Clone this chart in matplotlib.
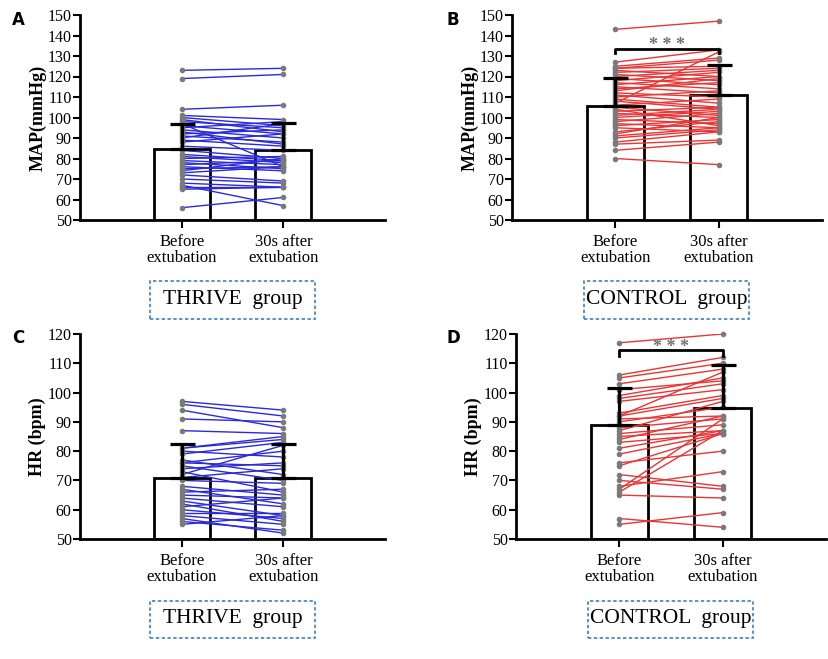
import matplotlib
matplotlib.use("Agg")
import matplotlib.pyplot as plt
from matplotlib.patches import Rectangle

plt.rcParams['font.family'] = ['Liberation Serif', 'DejaVu Serif']

categories = ["Before\nextubation", "30s after\nextubation"]

# panel A: THRIVE group, MAP (before, after)
thrive_map_before = [123, 119, 104, 101, 100, 99, 98, 97, 96, 95, 94, 93, 92, 91, 90, 89, 88, 86,
                     84, 82, 81, 80, 79, 78, 77, 76, 75, 74, 73, 72, 70, 68, 67, 66, 65, 56]
thrive_map_after = [124, 121, 106, 99, 96, 93, 95, 76, 92, 98, 90, 87, 94, 88, 97, 86, 92, 84,
                    80, 79, 78, 81, 77, 75, 79, 74, 76, 80, 76, 69, 68, 66, 57, 66, 66, 61]

# panel B: CONTROL group, MAP
control_map_before = [143, 127, 125, 124, 124, 123, 122, 121, 120, 119, 118, 117, 116, 115, 114, 113,
                      112, 111, 110, 109, 108, 107, 106, 105, 104, 103, 102, 101, 100, 99, 98, 97,
                      96, 95, 93, 92, 91, 90, 88, 87, 84, 80]
control_map_after = [147, 133, 129, 128, 125, 120, 124, 118, 123, 116, 122, 114, 120, 112, 117, 119,
                     110, 107, 113, 105, 104, 132, 109, 101, 96, 105, 100, 104, 103, 97, 102, 95,
                     99, 93, 98, 100, 95, 94, 93, 89, 88, 77]

# panel C: THRIVE group, HR
thrive_hr_before = [97, 96, 94, 91, 87, 81, 81, 80, 79, 77, 76, 76, 75, 74, 73, 72, 71, 70, 68, 67,
                    66, 65, 64, 63, 62, 61, 60, 59, 58, 57, 56, 55]
thrive_hr_after = [94, 92, 88, 90, 86, 85, 84, 78, 83, 72, 80, 75, 70, 76, 66, 82, 74, 69, 65, 62,
                   67, 64, 61, 58, 56, 64, 57, 59, 55, 52, 53, 58]

# panel D: CONTROL group, HR
control_hr_before = [117, 106, 105, 103, 101, 99, 98, 97, 93, 92, 92, 91, 90, 88, 87, 86, 85, 84, 83,
                     81, 79, 76, 75, 72, 70, 68, 67, 66, 65, 57, 55]
control_hr_after = [120, 112, 110, 108, 104, 105, 103, 101, 99, 107, 98, 92, 95, 91, 97, 89, 87, 92,
                    86, 87, 86, 80, 86, 68, 67, 73, 91, 87, 64, 54, 59]

# bar means and SD (upper error bar)
means_a = [84.5, 84.0]
sd_a = [12.5, 13.5]
means_b = [105.5, 111.0]
sd_b = [14.0, 14.5]
means_c = [71.0, 70.8]
sd_c = [11.5, 11.7]
means_d = [88.8, 94.8]
sd_d = [12.7, 14.7]

panels = [
    ("A", "MAP(mmHg)", thrive_map_before, thrive_map_after, means_a, sd_a, "#2a2ad8",
     (50, 150), 10, None, "THRIVE  group"),
    ("B", "MAP(mmHg)", control_map_before, control_map_after, means_b, sd_b, "#e83535",
     (50, 150), 10, 133.5, "CONTROL  group"),
    ("C", "HR (bpm)", thrive_hr_before, thrive_hr_after, means_c, sd_c, "#2a2ad8",
     (50, 120), 10, None, "THRIVE  group"),
    ("D", "HR (bpm)", control_hr_before, control_hr_after, means_d, sd_d, "#e83535",
     (50, 120), 10, 114.5, "CONTROL  group"),
]

W, H = 829, 659
fig = plt.figure(figsize=(W / 100, H / 100), dpi=100)

# axes boxes in pixels: left, top, right, bottom
boxes = [(80, 15, 385, 220), (512, 15, 822, 220), (80, 334, 385, 539), (516, 334, 826, 539)]
label_pos = [(12, 20), (447, 20), (12, 338), (447, 338)]

for (letter, ylab, before, after, means, sds, col, ylim, step, sig, group), box, lp in zip(panels, boxes, label_pos):
    l, t, r, b = box
    ax = fig.add_axes([l / W, 1 - b / H, (r - l) / W, (b - t) / H])
    x = [0, 1]
    ax.bar(x, [m - ylim[0] for m in means], bottom=ylim[0], width=0.55, color="white",
           edgecolor="black", linewidth=2, zorder=1)
    for yb, ya in zip(before, after):
        ax.plot(x, [yb, ya], color=col, lw=1.0, zorder=2)
        ax.plot(x, [yb, ya], "o", color="#7a7a7a", ms=3, zorder=3, clip_on=False)
    ax.errorbar(x, means, yerr=[[0, 0], sds], fmt="none", ecolor="black", elinewidth=2.3,
                capsize=9, capthick=2.3, zorder=4)
    if sig is not None:
        ax.plot([0, 0, 1, 1], [sig - 2, sig, sig, sig - 2], color="black", lw=2, zorder=5)
        ax.text(0.5, sig - 0.6, "* * *", ha="center", va="baseline", fontsize=13,
                color="#707070", fontweight="bold", clip_on=False, zorder=6)
    ax.set_xlim(-1, 2)
    ax.set_ylim(*ylim)
    ax.set_yticks(range(ylim[0], ylim[1] + 1, step))
    ax.set_xticks(x)
    ax.set_xticklabels(categories, fontsize=12, linespacing=1.0)
    ax.tick_params(axis="y", labelsize=11.5, width=1.5, length=5, pad=1)
    ax.tick_params(axis="x", width=1.5, length=6, pad=4)
    for s in ["top", "right"]:
        ax.spines[s].set_visible(False)
    for s in ["left", "bottom"]:
        ax.spines[s].set_linewidth(2)
    ax.set_ylabel(ylab, fontsize=13, fontweight="bold", labelpad=1)
    fig.text(lp[0] / W, 1 - lp[1] / H, letter, fontsize=12, fontweight="bold",
             family="DejaVu Sans", ha="left", va="center")

    # group box below the tick labels
    cx = (l + (r - l) * (1 + 0.5) / 3)
    bw, bh = 165, 37
    by = b + 80
    fig.patches.append(Rectangle(((cx - bw / 2) / W, 1 - (by + bh / 2) / H), bw / W, bh / H,
                                 transform=fig.transFigure, fill=False, edgecolor="#3d7fc0",
                                 linestyle=(0, (2, 1.5)), lw=1.2))
    fig.text(cx / W, 1 - by / H, group, fontsize=15.5, ha="center", va="center")

fig.savefig("out.png", dpi=100)
